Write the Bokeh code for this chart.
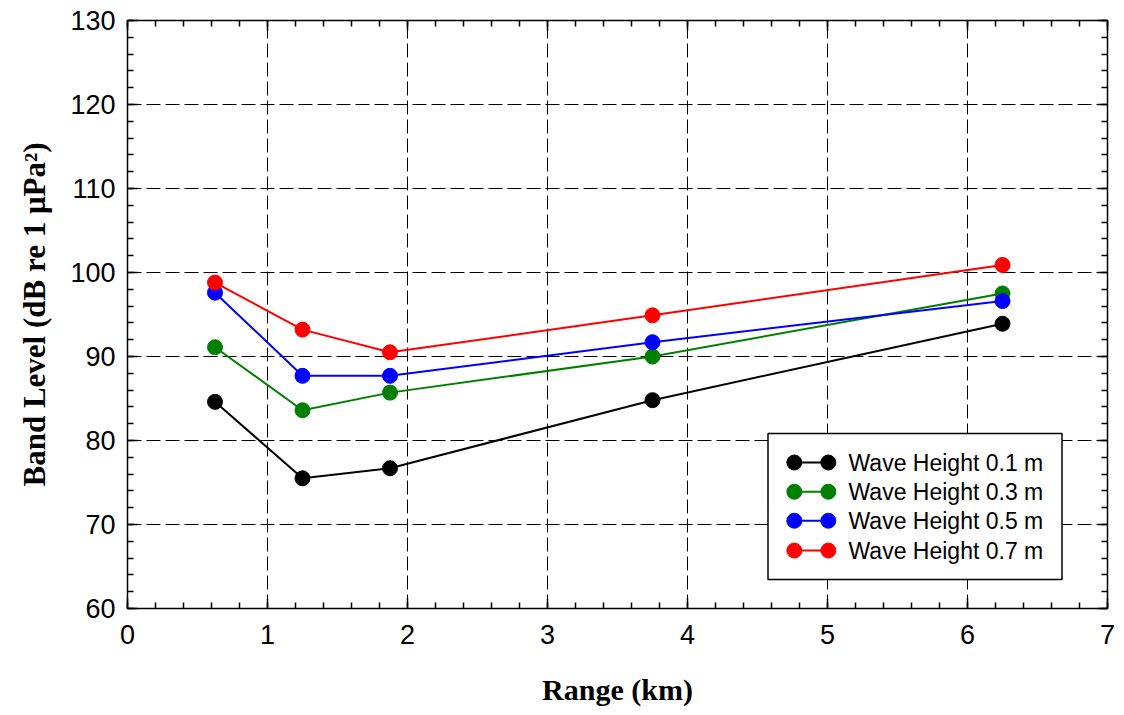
from bokeh.plotting import figure
from bokeh.models import (LinearAxis, SingleIntervalTicker, Range1d,
                          ColumnDataSource, CustomJSTickFormatter)
from bokeh.core.properties import value
from bokeh.embed import file_html
from bokeh.resources import INLINE

# Range of each measurement (km)
range_km = [0.625, 1.25, 1.875, 3.75, 6.25]

# Band level (dB re 1 uPa^2) for each wave height
level_h01 = [84.6, 75.5, 76.7, 84.8, 93.9]
level_h03 = [91.1, 83.6, 85.7, 90.0, 97.5]
level_h05 = [97.6, 87.7, 87.7, 91.7, 96.6]
level_h07 = [98.8, 93.2, 90.5, 94.9, 100.9]

series_labels = ["Wave Height 0.1 m", "Wave Height 0.3 m",
                 "Wave Height 0.5 m", "Wave Height 0.7 m"]
series_colors = ["#000000", "#008000", "#0000ff", "#ff0000"]
series_values = [level_h01, level_h03, level_h05, level_h07]

x_ticks = [0, 1, 2, 3, 4, 5, 6, 7]
y_ticks = [60, 70, 80, 90, 100, 110, 120, 130]

SANS = "Liberation Sans"
SERIF = "Liberation Serif"

p = figure(width=1124, height=715,
           x_range=Range1d(x_ticks[0], x_ticks[-1]),
           y_range=Range1d(y_ticks[0], y_ticks[-1]),
           output_backend="svg", toolbar_location=None,
           min_border_left=127, min_border_right=17,
           min_border_top=20, min_border_bottom=107)
p.background_fill_color = "white"
p.border_fill_color = "white"
p.outline_line_color = "black"
p.outline_line_width = 1.5

xticker = SingleIntervalTicker(interval=1, num_minor_ticks=5)
yticker = SingleIntervalTicker(interval=10, num_minor_ticks=5)


def style_axis(ax, show_labels):
    ax.axis_line_color = None
    ax.major_tick_in = 10
    ax.major_tick_out = 0
    ax.minor_tick_in = 6
    ax.minor_tick_out = 0
    ax.major_tick_line_color = "black"
    ax.minor_tick_line_color = "black"
    ax.major_tick_line_width = 1.5
    ax.minor_tick_line_width = 1.5
    if show_labels:
        ax.major_label_text_font = SANS
        ax.major_label_text_font_size = "27px"
        ax.major_label_text_color = "black"
        ax.major_label_standoff = 12
        ax.axis_label_text_font = SERIF
        ax.axis_label_text_font_style = "bold"
        ax.axis_label_text_color = "black"
    else:
        # tick marks only on the opposite sides of the frame
        ax.formatter = CustomJSTickFormatter(code="return '';")
        ax.major_label_standoff = 0


p.xaxis.ticker = xticker
p.yaxis.ticker = yticker
style_axis(p.xaxis[0], True)
style_axis(p.yaxis[0], True)
p.xaxis.major_label_standoff = 16
p.xaxis.axis_label = "Range (km)"
p.yaxis.axis_label = "Band Level (dB re 1 \u03bcPa\u00b2)"
p.xaxis.axis_label_text_font_size = "30px"
p.yaxis.axis_label_text_font_size = "31px"
p.xaxis.axis_label_standoff = 26
p.yaxis.axis_label_standoff = 15

top_axis = LinearAxis(ticker=xticker)
right_axis = LinearAxis(ticker=yticker)
style_axis(top_axis, False)
style_axis(right_axis, False)
p.add_layout(top_axis, "above")
p.add_layout(right_axis, "right")

for g in (p.xgrid, p.ygrid):
    g.grid_line_color = "black"
    g.grid_line_width = 1
    g.grid_line_dash = "14 5"
p.xgrid.ticker = xticker
p.ygrid.ticker = yticker

# Data series: connected lines with filled circular markers
for vals, col in zip(series_values, series_colors):
    src = ColumnDataSource(dict(x=range_km, y=vals))
    p.line("x", "y", source=src, line_color=col, line_width=2)
    p.scatter("x", "y", source=src, marker="circle", size=15,
              fill_color=col, line_color=col)

# Key box in the lower right of the plot area
key_left, key_right = 4.575, 6.675
key_bottom, key_top = 63.45, 80.83
p.quad(left=[key_left], right=[key_right], bottom=[key_bottom], top=[key_top],
       fill_color="white", line_color="black", line_width=1.5)

row_y = [77.38, 73.9, 70.45, 66.9]
sym_x0, sym_x1 = 4.763, 5.006
text_x = 5.15
for yy, col in zip(row_y, series_colors):
    p.segment(x0=[sym_x0], y0=[yy], x1=[sym_x1], y1=[yy],
              line_color=col, line_width=2)
    p.scatter(x=[sym_x0, sym_x1], y=[yy, yy], marker="circle", size=15,
              fill_color=col, line_color=col)
p.text(x=[text_x] * len(row_y), y=row_y, text=series_labels,
       text_font=value(SANS), text_font_size="23px",
       text_baseline="middle", text_align="left", text_color="black")

open("out.html", "w").write(file_html(p, INLINE))
